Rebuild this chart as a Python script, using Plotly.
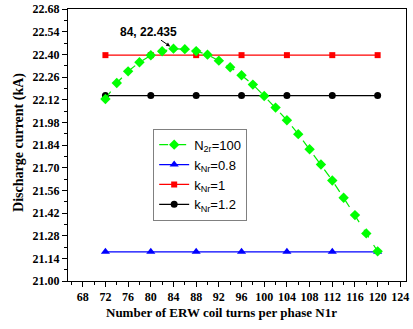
import plotly.graph_objects as go

# Data
x_green = [72, 74, 76, 78, 80, 82, 84, 86, 88, 90, 92, 94, 96, 98, 100,
           102, 104, 106, 108, 110, 112, 114, 116, 118, 120]
y_green = [22.124, 22.223, 22.295, 22.351, 22.394, 22.419, 22.435, 22.432, 22.42,
           22.398, 22.361, 22.32, 22.271, 22.213, 22.143, 22.071, 21.993, 21.907,
           21.814, 21.72, 21.621, 21.514, 21.407, 21.294, 21.183]
x_k = [72, 80, 88, 96, 104, 112, 120]
y_k08 = [21.18] * 7
y_k1 = [22.395] * 7
y_k12 = [22.145] * 7
x_title = "Number of ERW coil turns per phase N1r"
y_title = "Discharge current (kA)"

serif = "Liberation Serif"
sans = "Liberation Sans"

fig = go.Figure()
fig.add_trace(go.Scatter(x=x_k, y=y_k12, mode="lines+markers", name="k<sub>Nr</sub>=1.2",
                         line=dict(color="black", width=1.2),
                         marker=dict(symbol="circle", size=7, color="black")))
fig.add_trace(go.Scatter(x=x_k, y=y_k1, mode="lines+markers", name="k<sub>Nr</sub>=1",
                         line=dict(color="#ff0000", width=1.2),
                         marker=dict(symbol="square", size=6, color="#ff0000")))
fig.add_trace(go.Scatter(x=x_k, y=y_k08, mode="lines+markers", name="k<sub>Nr</sub>=0.8",
                         line=dict(color="#0000ff", width=1.2),
                         marker=dict(symbol="triangle-up", size=8, color="#0000ff")))
fig.add_trace(go.Scatter(x=x_green, y=y_green, mode="lines+markers", name="N<sub>2r</sub>=100",
                         line=dict(color="#00ee00", width=1.2, dash="dash"),
                         marker=dict(symbol="diamond", size=8, color="#00ff00")))

fig.add_annotation(x=84, y=22.435, text="<b>84, 22.435</b>", showarrow=True,
                   ax=-25, ay=-17, arrowhead=2, arrowsize=0.8, arrowwidth=1,
                   arrowcolor="black", standoff=4,
                   font=dict(family=sans, size=12, color="black"))

# axis titles placed as paper annotations (x title is off-centre in the reference)
fig.add_annotation(xref="paper", yref="paper", x=0.4527, y=-0.1164,
                   xanchor="center", yanchor="middle", showarrow=False,
                   text="<b>" + x_title + "</b>",
                   font=dict(family=serif, size=13, color="black"))
fig.add_annotation(xref="paper", yref="paper", x=-0.143, y=0.51,
                   xanchor="center", yanchor="middle", showarrow=False, textangle=-90,
                   text="<b>" + y_title + "</b>",
                   font=dict(family=serif, size=14, color="black"))

fig.update_layout(
    width=413, height=329,
    margin=dict(l=68, r=7, t=9, b=48, autoexpand=False),
    paper_bgcolor="white", plot_bgcolor="white",
    showlegend=True,
    legend=dict(x=0.252, y=0.56, xanchor="left", yanchor="top",
                traceorder="reversed", bordercolor="#808080", borderwidth=1,
                bgcolor="white", font=dict(family=sans, size=13, color="black"),
                itemwidth=30, tracegroupgap=0),
)
fig.update_xaxes(range=[65.4, 125], tick0=68, dtick=4, ticks="outside", ticklen=5,
                 tickwidth=1, tickcolor="black", automargin=False,
                 minor=dict(dtick=2, ticks="outside", ticklen=3, tickcolor="black"),
                 showline=True, linecolor="black", linewidth=1, mirror=True,
                 showgrid=False, zeroline=False,
                 tickfont=dict(family=serif, size=12, color="black", weight="bold"))
fig.update_yaxes(range=[21.0, 22.68], tick0=21.0, dtick=0.14, tickformat=".2f",
                 ticks="outside", ticklen=5, tickwidth=1, tickcolor="black",
                 automargin=False,
                 minor=dict(dtick=0.07, ticks="outside", ticklen=3, tickcolor="black"),
                 showline=True, linecolor="black", linewidth=1, mirror=True,
                 showgrid=False, zeroline=False,
                 tickfont=dict(family=serif, size=12, color="black", weight="bold"))

fig.write_html("out.html", config={"displayModeBar": False},
               post_script="document.body.style.margin='0';document.body.style.overflow='hidden';")
